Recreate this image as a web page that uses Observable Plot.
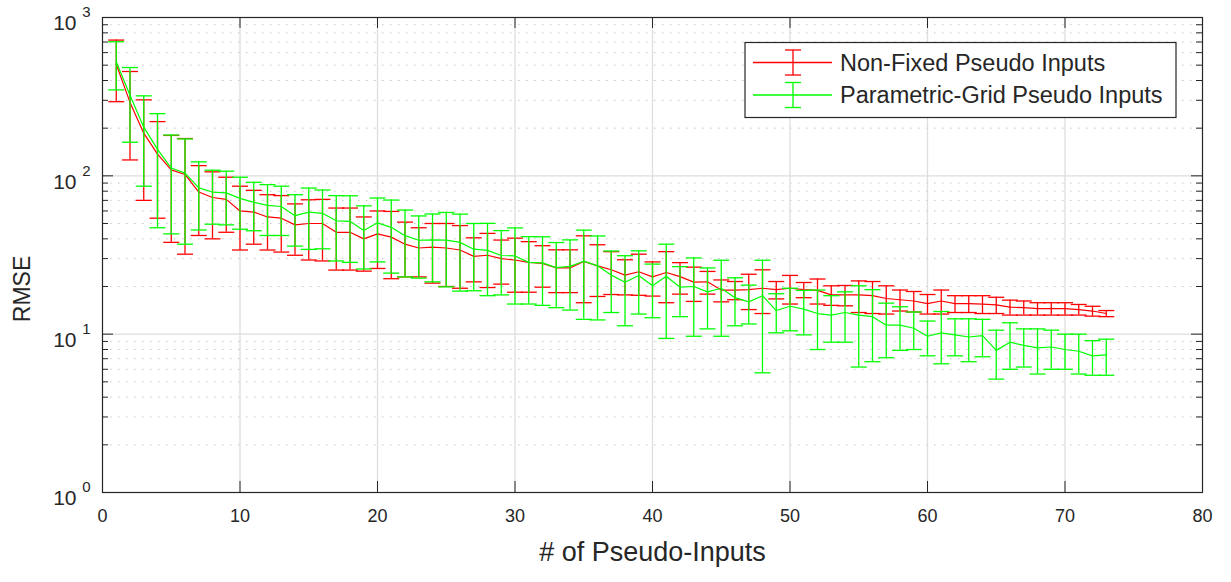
<!DOCTYPE html>
<html><head><meta charset="utf-8">
<script src="https://cdn.jsdelivr.net/npm/d3@7"></script>
<script src="https://cdn.jsdelivr.net/npm/@observablehq/plot@0.6"></script>
<style>
html,body{margin:0;padding:0;background:#fff;}
#chart{width:1231px;height:582px;}
</style></head><body><div id="chart"></div>
<script>
// ---- data ----
const nInputs = [1,2,3,4,5,6,7,8,9,10,11,12,13,14,15,16,17,18,19,20,21,22,23,24,25,26,27,28,29,30,31,32,33,34,35,36,37,38,39,40,41,42,43,44,45,46,47,48,49,50,51,52,53,54,55,56,57,58,59,60,61,62,63,64,65,66,67,68,69,70,71,72,73];
const nonFixedMean = [507,291,186,137,109,102,79,73,71,60, 59,55,54,49,50,50,44,44,40,43, 41,37,35,35.5,35,34,31,31.5,30,29.4, 28.4,28,26.2,26.2,28.8,27,25.5,23.6,24.8,23, 24.5,23.1,21.3,21.4,19,19,19.1,19.5,19.1,19.5, 19.1,18.9,17.7,17.7,17.7,17.5,16.8,16.5,16.2,15.6, 16.2,15.6,15.6,15.5,15.3,14.8,14.7,14.5,14.5,14.5, 14.3,14,13.5];
const nonFixedErr = [213,165,116,83,71,70,37,33,27,26, 22,21,21,17.5,20.6,21,18.6,18.6,15,17, 18.6,14,12,14.5,15,14.5,9.6,11.8,9.3,11, 10,8.2,7.9,7.9,13,9.7,7.7,5.9,7.2,5.6, 8.7,5.2,5.2,3.5,3,2.5,4.8,6,2.4,4, 2.1,3.4,2.5,2.6,4,4,3.4,2.5,2.4,2.2, 2.8,1.9,1.9,2,1.8,1.6,1.5,1.3,1.3,1.3, 1.1,1,0.6];
const gridMean = [526,323,203,147,112,104,84,79,78,72, 68,65,64,56,59,58,52,51.6,45.2,50.5, 47.3,41.9,39.2,39.4,39.3,38,34.4,33.8,31.4,31.2, 28.4,28.2,26.3,26.8,28.9,27,23.6,21.3,23.5,20.2, 23.2,19.8,20,18.5,19.5,17,16,17.5,14.1,15, 14.4,13.5,13.2,13.7,13.2,12.9,11.4,11.4,10.9,9.7, 10.2,9.9,9.6,9.8,7.9,8.9,8.5,8.2,8.3,8, 7.8,7.3,7.4];
const gridErr = [177,160,117,100,69,67,38.5,29.5,29,26, 23,23,22,20,24.7,23.4,23,23.2,19.4,21.9, 23,18.9,16.6,18,19.4,19.3,15.6,16.3,13.7,15.7, 12.9,13,11.6,12.6,16.5,14.7,9.9,10,10.1,7.5, 13.8,6.9,10.3,7.7,9.8,5.7,4.4,11.8,3.9,4.5, 4.5,5.5,4.3,4.8,7,6.2,4.3,3.5,2.9,2.4, 3.7,2.6,2.9,2.6,2.7,2.9,2.3,2.6,2.3,2, 2.2,1.8,1.9];
const seriesNames = ["Non-Fixed Pseudo Inputs", "Parametric-Grid Pseudo Inputs"];
const seriesColors = ["#ff0000", "#00ff00"];
const xTickValues = [0,10,20,30,40,50,60,70,80];
const yTickValues = [1,10,100,1000];
const yTickBase = ["10","10","10","10"];
const yTickExponents = ["0","1","2","3"];
const yMinorMultipliers = [2,3,4,5,6,7,8,9];
const xLabel = "# of Pseudo-Inputs";
const yLabel = "RMSE";

// ---- layout ----
const W = 1231, H = 582;
const mL = 102, mR = 29, mT = 17, mB = 90;
const plotW = W - mL - mR, plotH = H - mT - mB;
const ink = "#262626";
const font = "'Liberation Sans', Arial, Helvetica, sans-serif";

const yMinor = [1,10,100].flatMap(b => yMinorMultipliers.map(m => m * b));

function rows(mean, err, k) {
  return nInputs.map((x, i) => ({x, y: mean[i], lo: mean[i] - err[i], hi: mean[i] + err[i], k}));
}
const seriesData = [rows(nonFixedMean, nonFixedErr, 0), rows(gridMean, gridErr, 1)];

const capSymbol = {draw(ctx) { ctx.moveTo(-8, 0); ctx.lineTo(8, 0); }};

function seriesMarks(data, color) {
  return [
    Plot.ruleX(data, {x: "x", y1: "lo", y2: "hi", stroke: color, strokeWidth: 1.3}),
    Plot.dot(data, {x: "x", y: "hi", symbol: capSymbol, stroke: color, fill: "none", strokeWidth: 1.3, r: 4}),
    Plot.dot(data, {x: "x", y: "lo", symbol: capSymbol, stroke: color, fill: "none", strokeWidth: 1.3, r: 4}),
    Plot.line(data, {x: "x", y: "y", stroke: color, strokeWidth: 1.2})
  ];
}

const chart = Plot.plot({
  width: W, height: H,
  marginLeft: mL, marginRight: mR, marginTop: mT, marginBottom: mB,
  style: {fontFamily: font, color: ink, background: "#fff", overflow: "visible"},
  x: {type: "linear", domain: [0, 80]},
  y: {type: "log", domain: [1, 1000], axis: null},
  marks: [
    // grid
    Plot.ruleY(yMinor, {y: d => d, stroke: "#c4c4c4", strokeWidth: 1, strokeDasharray: "1.5,6.5"}),
    Plot.ruleX(xTickValues.slice(1, -1), {x: d => d, stroke: "#dedede", strokeWidth: 1.3}),
    Plot.ruleY(yTickValues.slice(1, -1), {y: d => d, stroke: "#dedede", strokeWidth: 1.3}),
    // data
    ...seriesMarks(seriesData[0], seriesColors[0]),
    ...seriesMarks(seriesData[1], seriesColors[1]),
    // box + ticks (inward, MATLAB style)
    Plot.frame({stroke: ink, strokeWidth: 1.2}),
    Plot.tickX(xTickValues, {x: d => d, insetTop: plotH - 11, stroke: ink}),
    Plot.tickX(xTickValues, {x: d => d, insetBottom: plotH - 11, stroke: ink}),
    Plot.tickY(yTickValues, {y: d => d, insetRight: plotW - 11, stroke: ink}),
    Plot.tickY(yTickValues, {y: d => d, insetLeft: plotW - 11, stroke: ink}),
    Plot.tickY(yMinor, {y: d => d, insetRight: plotW - 6, stroke: ink}),
    Plot.tickY(yMinor, {y: d => d, insetLeft: plotW - 6, stroke: ink}),
    // tick labels
    Plot.axisX(xTickValues, {tickSize: 0, tickPadding: 17, fontSize: 18, label: null}),
    Plot.text(yTickValues, {y: d => d, frameAnchor: "left", text: (d, i) => yTickBase[i], textAnchor: "end", dx: -26, dy: 6, fontSize: 21, fill: ink}),
    Plot.text(yTickValues, {y: d => d, frameAnchor: "left", text: (d, i) => yTickExponents[i], textAnchor: "end", dx: -12, dy: -5, fontSize: 15, fill: ink}),
    // axis titles
    Plot.text([xLabel], {frameAnchor: "bottom", textAnchor: "middle", dy: 68, fontSize: 27, fill: ink}),
    Plot.text([yLabel], {frameAnchor: "left", textAnchor: "middle", rotate: -90, dx: -80, dy: 34, fontSize: 23, fill: ink})
  ]
});

document.getElementById("chart").appendChild(chart);

// ---- legend (inside the axes, top right) ----
const svg = d3.select(chart);
const lg = svg.append("g").attr("font-family", font).attr("text-anchor", "start");
const box = {x: 745, y: 42.5, w: 431, h: 75};
lg.append("rect").attr("x", box.x).attr("y", box.y).attr("width", box.w).attr("height", box.h)
  .attr("fill", "#fff").attr("stroke", ink).attr("stroke-width", 1.2);
const rowY = [62.5, 95];
seriesNames.forEach((name, i) => {
  const y = rowY[i], c = seriesColors[i], cx = 793;
  lg.append("line").attr("x1", 753).attr("x2", 832).attr("y1", y).attr("y2", y).attr("stroke", c).attr("stroke-width", 1.3);
  lg.append("line").attr("x1", cx).attr("x2", cx).attr("y1", y - 12.5).attr("y2", y + 12.5).attr("stroke", c).attr("stroke-width", 1.3);
  lg.append("line").attr("x1", cx - 8).attr("x2", cx + 8).attr("y1", y - 12.5).attr("y2", y - 12.5).attr("stroke", c).attr("stroke-width", 1.3);
  lg.append("line").attr("x1", cx - 8).attr("x2", cx + 8).attr("y1", y + 12.5).attr("y2", y + 12.5).attr("stroke", c).attr("stroke-width", 1.3);
  lg.append("text").attr("x", 840).attr("y", y).attr("dy", "0.36em").attr("font-size", 23.5).attr("fill", ink).text(name);
});
</script></body></html>
